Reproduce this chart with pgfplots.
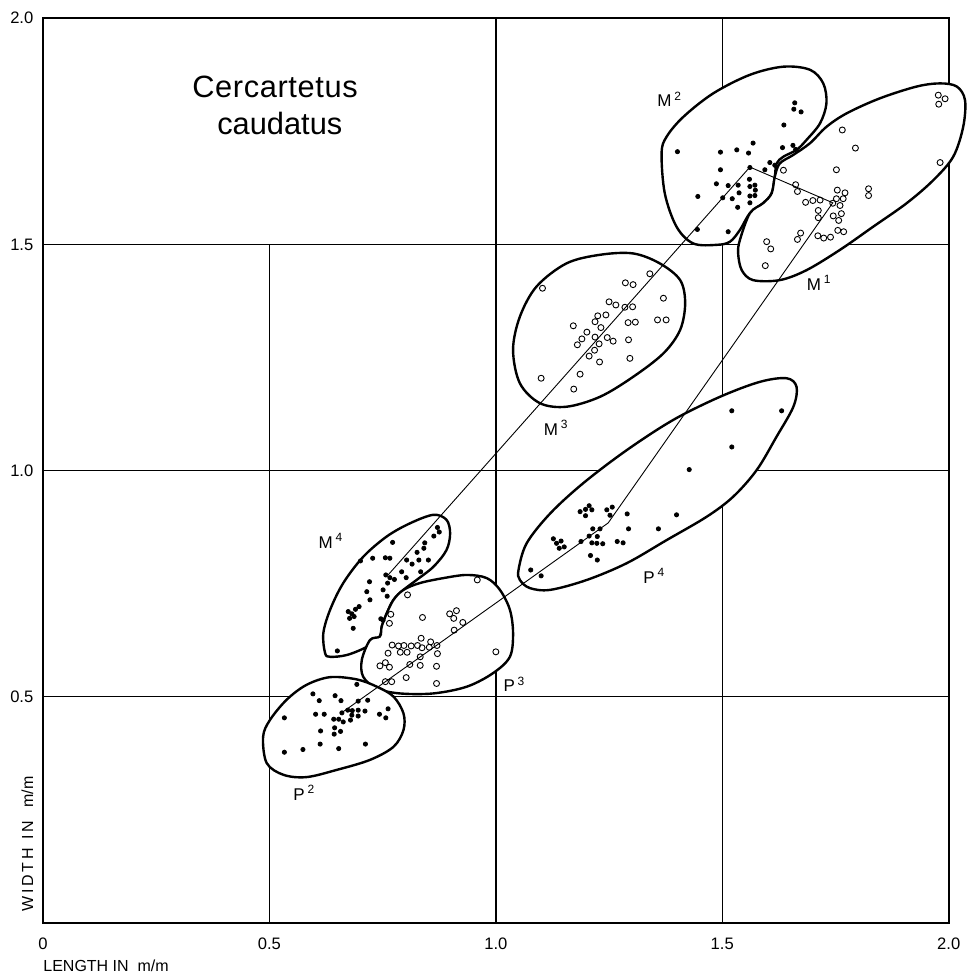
\documentclass[border=0pt]{standalone}
\usepackage{fontspec}
\setmainfont{Liberation Sans}
\newfontfamily\spacedfont{Liberation Sans}[LetterSpace=2]
\usepackage{pgfplots}
\pgfplotsset{compat=1.18}
\newcommand{\tsup}[1]{\,\raisebox{3.2pt}{\fontsize{6}{7}\selectfont #1}}
\begin{document}
\begin{tikzpicture}
\useasboundingbox (-21.5pt,-27.15pt) rectangle (461.5pt,461.35pt);
\begin{axis}[
  at={(0,0)}, anchor=south west,
  scale only axis, width=452.85pt, height=452.2pt,
  xmin=0, xmax=2, ymin=0, ymax=2,
  clip=false,
  axis line style={draw=none},
  xtick={0,0.5,1,1.5,2}, xticklabels={0,0.5,1.0,1.5,2.0},
  ytick={0.5,1,1.5,2}, yticklabels={0.5,1.0,1.5,2.0},
  major tick length=0pt,
  tick label style={font=\fontsize{8.3}{10}\selectfont},
  xticklabel style={yshift=-4.3pt},
  yticklabel style={xshift=-1.3pt},
]
% grid and frame
\draw[line width=0.7pt] (axis cs:0.5,0) -- (axis cs:0.5,1.5);
\draw[line width=0.7pt] (axis cs:1,0) -- (axis cs:1,2);
\draw[line width=0.7pt] (axis cs:1.5,0) -- (axis cs:1.5,2);
\draw[line width=0.7pt] (axis cs:0,0.5) -- (axis cs:2,0.5);
\draw[line width=0.7pt] (axis cs:0,1) -- (axis cs:2,1);
\draw[line width=0.7pt] (axis cs:0,1.5) -- (axis cs:2,1.5);
\draw[line width=0.9pt] (axis cs:0,0) rectangle (axis cs:2,2);

% enclosing outlines
\addplot[black, line width=1.2pt, fill=white, smooth cycle, tension=0.55] coordinates {
(1.366,1.702)(1.377,1.738)(1.414,1.782)(1.480,1.834)(1.561,1.875)(1.635,1.893)(1.694,1.886)(1.723,1.856)(1.730,1.812)(1.716,1.768)(1.686,1.731)(1.664,1.709)(1.635,1.694)(1.620,1.679)(1.616,1.650)(1.609,1.613)(1.590,1.591)(1.561,1.569)(1.539,1.532)(1.517,1.506)(1.488,1.499)(1.436,1.502)(1.399,1.539)(1.373,1.613)};
\addplot[black, line width=1.2pt, fill=white, smooth cycle, tension=0.55] coordinates {
(1.535,1.480)(1.539,1.510)(1.561,1.569)(1.590,1.591)(1.609,1.613)(1.616,1.650)(1.627,1.679)(1.657,1.698)(1.694,1.724)(1.730,1.760)(1.775,1.790)(1.848,1.823)(1.929,1.849)(1.981,1.856)(2.018,1.849)(2.036,1.819)(2.032,1.760)(2.010,1.694)(1.966,1.642)(1.907,1.591)(1.833,1.539)(1.760,1.488)(1.686,1.443)(1.627,1.421)(1.568,1.421)(1.543,1.443)};
\addplot[black, line width=1.2pt, fill=white, smooth cycle, tension=0.55] coordinates {
(1.038,1.267)(1.053,1.340)(1.090,1.407)(1.156,1.458)(1.230,1.477)(1.303,1.480)(1.362,1.458)(1.407,1.421)(1.418,1.370)(1.407,1.311)(1.370,1.259)(1.303,1.207)(1.230,1.163)(1.156,1.141)(1.097,1.149)(1.053,1.193)};
\addplot[black, line width=1.2pt, fill=white, smooth cycle, tension=0.55] coordinates {
(1.050,0.780)(1.068,0.839)(1.120,0.905)(1.193,0.972)(1.289,1.045)(1.392,1.112)(1.495,1.163)(1.583,1.196)(1.642,1.204)(1.664,1.185)(1.657,1.141)(1.620,1.075)(1.576,1.001)(1.524,0.942)(1.466,0.898)(1.377,0.846)(1.289,0.795)(1.201,0.758)(1.120,0.736)(1.075,0.740)(1.053,0.758)};
\addplot[black, line width=1.2pt, fill=white, smooth cycle, tension=0.55] coordinates {
(0.623,0.596)(0.619,0.640)(0.634,0.692)(0.663,0.751)(0.707,0.809)(0.759,0.854)(0.810,0.883)(0.862,0.902)(0.891,0.891)(0.899,0.861)(0.891,0.824)(0.862,0.787)(0.825,0.758)(0.796,0.736)(0.774,0.714)(0.759,0.684)(0.748,0.655)(0.744,0.633)(0.715,0.610)(0.671,0.592)(0.634,0.588)};
\addplot[black, line width=1.2pt, fill=white, smooth cycle, tension=0.55] coordinates {
(0.744,0.633)(0.748,0.655)(0.759,0.684)(0.774,0.714)(0.796,0.736)(0.832,0.751)(0.884,0.762)(0.936,0.769)(0.980,0.762)(1.009,0.736)(1.031,0.692)(1.038,0.640)(1.031,0.588)(0.994,0.552)(0.936,0.522)(0.862,0.507)(0.788,0.507)(0.737,0.518)(0.707,0.544)(0.704,0.581)(0.722,0.625)};
\addplot[black, line width=1.2pt, fill=white, smooth cycle, tension=0.55] coordinates {
(0.486,0.411)(0.501,0.448)(0.538,0.493)(0.582,0.526)(0.634,0.543)(0.693,0.538)(0.737,0.522)(0.774,0.500)(0.796,0.463)(0.796,0.426)(0.774,0.389)(0.722,0.360)(0.649,0.338)(0.582,0.322)(0.531,0.327)(0.494,0.353)};

% lines joining the means
\addplot[black, line width=0.45pt] coordinates {(0.762,0.769)(1.230,1.297)(1.561,1.671)(1.744,1.592)(1.248,0.884)(0.877,0.619)(0.662,0.466)};

% M2 (filled)
\addplot[only marks, mark=*, mark size=1.05pt, black] coordinates {
(1.660,1.813)(1.658,1.799)(1.674,1.793)(1.636,1.764)(1.401,1.705)(1.496,1.704)(1.532,1.709)(1.558,1.702)(1.568,1.724)(1.633,1.714)(1.656,1.719)(1.662,1.710)(1.496,1.665)(1.594,1.665)(1.605,1.681)(1.616,1.675)(1.487,1.634)(1.513,1.630)(1.535,1.631)(1.560,1.644)(1.572,1.631)(1.561,1.628)(1.573,1.620)(1.537,1.614)(1.561,1.607)(1.572,1.608)(1.446,1.606)(1.501,1.603)(1.522,1.601)(1.561,1.592)(1.534,1.582)(1.445,1.533)(1.513,1.528)(1.561,1.670)};
% M1 (open)
\addplot[only marks, mark=o, mark size=1.5pt, black, mark options={fill=white, line width=0.45pt}] coordinates {
(1.977,1.830)(1.992,1.822)(1.978,1.810)(1.765,1.753)(1.794,1.713)(1.635,1.664)(1.752,1.665)(1.981,1.681)(1.662,1.632)(1.666,1.617)(1.754,1.620)(1.771,1.614)(1.823,1.623)(1.823,1.608)(1.684,1.593)(1.700,1.597)(1.716,1.598)(1.744,1.591)(1.752,1.601)(1.767,1.601)(1.760,1.586)(1.712,1.575)(1.712,1.559)(1.745,1.563)(1.763,1.568)(1.757,1.553)(1.673,1.525)(1.666,1.511)(1.711,1.519)(1.724,1.514)(1.739,1.516)(1.755,1.531)(1.768,1.528)(1.598,1.506)(1.607,1.490)(1.595,1.453)};
% M3 (open)
\addplot[only marks, mark=o, mark size=1.5pt, black, mark options={fill=white, line width=0.45pt}] coordinates {
(1.103,1.403)(1.340,1.435)(1.286,1.415)(1.303,1.411)(1.370,1.381)(1.250,1.373)(1.265,1.366)(1.285,1.361)(1.302,1.362)(1.225,1.342)(1.243,1.344)(1.219,1.329)(1.171,1.320)(1.232,1.316)(1.292,1.327)(1.308,1.328)(1.357,1.333)(1.376,1.333)(1.201,1.306)(1.190,1.291)(1.180,1.278)(1.219,1.295)(1.246,1.294)(1.259,1.286)(1.228,1.280)(1.293,1.289)(1.218,1.266)(1.206,1.253)(1.229,1.240)(1.296,1.248)(1.186,1.213)(1.100,1.204)(1.172,1.180)};
% M4 (filled)
\addplot[only marks, mark=*, mark size=1.05pt, black] coordinates {
(0.871,0.874)(0.875,0.864)(0.863,0.855)(0.843,0.840)(0.772,0.841)(0.841,0.828)(0.826,0.819)(0.851,0.802)(0.830,0.802)(0.701,0.800)(0.728,0.806)(0.756,0.807)(0.766,0.806)(0.803,0.802)(0.815,0.793)(0.792,0.776)(0.834,0.776)(0.757,0.769)(0.766,0.763)(0.776,0.759)(0.802,0.763)(0.721,0.754)(0.761,0.751)(0.751,0.736)(0.715,0.732)(0.760,0.722)(0.722,0.714)(0.698,0.699)(0.690,0.693)(0.674,0.688)(0.682,0.683)(0.687,0.677)(0.677,0.673)(0.685,0.651)(0.746,0.672)(0.751,0.669)(0.650,0.601)};
% P3 (open)
\addplot[only marks, mark=o, mark size=1.5pt, black, mark options={fill=white, line width=0.45pt}] coordinates {
(0.959,0.758)(0.805,0.725)(0.768,0.682)(0.765,0.662)(0.838,0.675)(0.898,0.683)(0.913,0.690)(0.907,0.673)(0.927,0.664)(0.908,0.647)(0.835,0.629)(0.856,0.621)(0.771,0.614)(0.785,0.612)(0.797,0.613)(0.813,0.612)(0.827,0.613)(0.870,0.613)(0.789,0.598)(0.804,0.598)(0.837,0.608)(0.853,0.609)(0.871,0.595)(0.762,0.596)(0.833,0.588)(0.833,0.569)(0.810,0.571)(0.869,0.567)(0.756,0.575)(0.744,0.568)(0.765,0.565)(0.802,0.542)(0.756,0.533)(0.770,0.533)(0.869,0.529)(1.000,0.599)};
% P2 (filled)
\addplot[only marks, mark=*, mark size=1.05pt, black] coordinates {
(0.596,0.506)(0.645,0.502)(0.610,0.491)(0.658,0.491)(0.696,0.490)(0.717,0.492)(0.693,0.527)(0.533,0.453)(0.602,0.461)(0.621,0.461)(0.660,0.464)(0.673,0.470)(0.683,0.469)(0.696,0.470)(0.711,0.468)(0.682,0.459)(0.696,0.457)(0.743,0.461)(0.762,0.473)(0.757,0.453)(0.642,0.450)(0.653,0.450)(0.663,0.444)(0.679,0.448)(0.644,0.431)(0.613,0.424)(0.643,0.417)(0.657,0.423)(0.533,0.377)(0.574,0.383)(0.612,0.395)(0.653,0.385)(0.712,0.395)};
% P4 (filled)
\addplot[only marks, mark=*, mark size=1.05pt, black] coordinates {
(1.521,1.132)(1.631,1.132)(1.521,1.052)(1.427,1.002)(1.399,0.902)(1.359,0.871)(1.293,0.871)(1.290,0.904)(1.206,0.922)(1.198,0.914)(1.212,0.913)(1.186,0.909)(1.198,0.900)(1.245,0.913)(1.257,0.919)(1.252,0.901)(1.214,0.871)(1.230,0.871)(1.206,0.855)(1.224,0.854)(1.188,0.843)(1.212,0.840)(1.223,0.839)(1.236,0.838)(1.268,0.843)(1.281,0.840)(1.127,0.849)(1.134,0.839)(1.144,0.844)(1.140,0.828)(1.151,0.831)(1.209,0.812)(1.224,0.802)(1.077,0.780)(1.100,0.767)};

% labels
\node[anchor=base west, font=\spacedfont\fontsize{15.4}{18}\selectfont, inner sep=0pt] at (axis cs:0.329,1.824) {Cercartetus};
\node[anchor=base west, font=\fontsize{15.4}{18}\selectfont, inner sep=0pt] at (axis cs:0.384,1.742) {caudatus};
\begin{scope}[every node/.style={anchor=base west, font=\fontsize{8.5}{10}\selectfont, inner sep=0pt}]
\node at (axis cs:1.356,1.804) {M\tsup{2}};
\node at (axis cs:1.686,1.399) {M\tsup{1}};
\node at (axis cs:1.105,1.078) {M\tsup{3}};
\node at (axis cs:0.608,0.828) {M\tsup{4}};
\node at (axis cs:1.325,0.751) {P\tsup{4}};
\node at (axis cs:1.016,0.511) {P\tsup{3}};
\node at (axis cs:0.552,0.271) {P\tsup{2}};
\end{scope}
\node[anchor=base west, font=\fontsize{8}{9.6}\selectfont, inner sep=0pt] at (axis cs:0,-0.109) {LENGTH IN\ \ m/m};
\node[anchor=base west, rotate=90, font=\fontsize{8}{9.6}\selectfont, inner sep=0pt] at (axis cs:-0.022,0.024) {W\,I\,D\,T\,H \ I\,N \ \ m/m};
\end{axis}
\end{tikzpicture}
\end{document}
